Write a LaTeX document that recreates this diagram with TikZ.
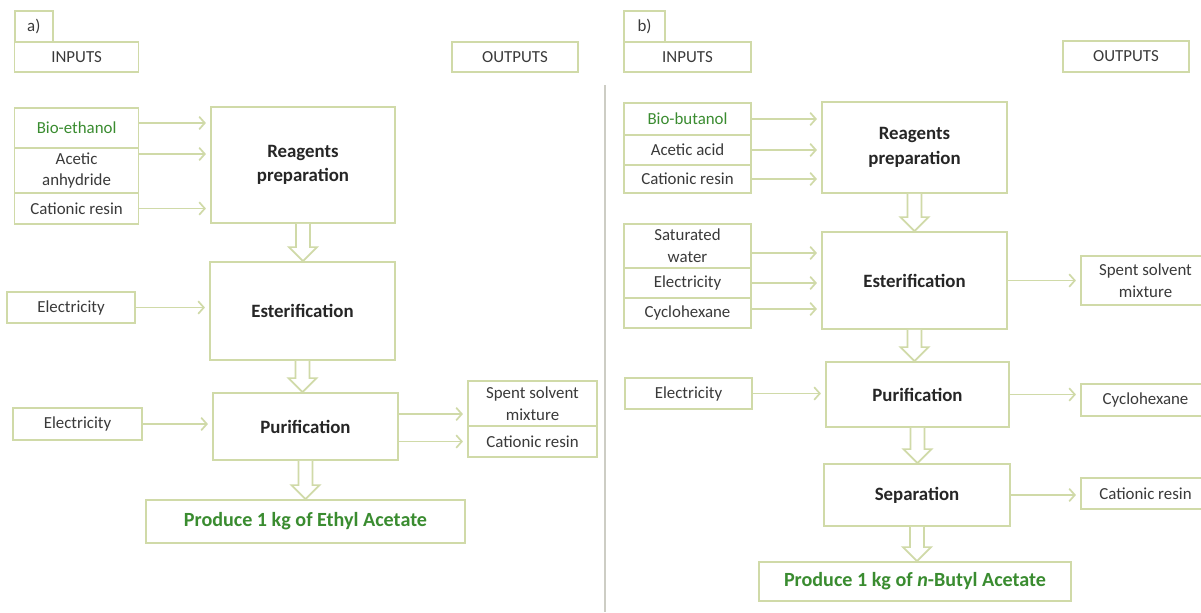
\documentclass[tikz,border=0pt]{standalone}
\usepackage{fontspec}
\setmainfont{Carlito}
\usetikzlibrary{arrows.meta, calc}

\definecolor{boxline}{RGB}{208,218,168}
\definecolor{txtgrey}{RGB}{58,58,58}
\definecolor{txtgreen}{RGB}{58,140,48}
\definecolor{sepgrey}{RGB}{205,205,196}

\begin{document}
\begin{tikzpicture}[
    x=0.025cm, y=-0.025cm,
    box/.style={draw=boxline, line width=1.2pt, fill=white, align=center, inner sep=1pt,
        text=txtgrey, font=\fontsize{12}{15.5}\selectfont},
    sz/.style 2 args={minimum width=#1*0.025cm, minimum height=#2*0.025cm},
    stage/.style={box, text=black!85, font=\fontsize{13.4}{17.5}\selectfont\bfseries},
    prod/.style={box, text=txtgreen, font=\fontsize{14.3}{16}\selectfont\bfseries},
    flow/.style={draw=boxline, line width=1.2pt, -{Straight Barb[length=4pt, width=9pt]}, shorten >=3pt},
    hollow/.style={draw=boxline, line width=1.2pt, fill=white,
        to path={let \p1=(\tikztostart), \p2=(\tikztotarget) in
            (\x1-5pt,\y1) -- (\x1-5pt,\y2+10pt) -- (\x1-10pt,\y2+10pt) -- (\x1,\y2)
            -- (\x1+10pt,\y2+10pt) -- (\x1+5pt,\y2+10pt) -- (\x1+5pt,\y1)}}
]

\fill[white] (0,0) rectangle (1201,612);
\useasboundingbox (0,0) rectangle (1201,612);

% a) ethyl acetate
\node[box, sz={38}{31}] (labA) at (33.8,26.5) {a)};
\node[box, sz={124}{30}] (inA) at (76.6,57) {INPUTS};
\node[box, sz={126}{30}] (outA) at (515,57) {OUTPUTS};

\node[box, sz={124}{40}, text=txtgreen] (bioeth) at (76.6,128) {Bio-ethanol};
\node[box, sz={124}{45}] (aceanh) at (76.6,170.5) {Acetic\\anhydride};
\node[box, sz={124}{31}] (cresA) at (76.6,208.5) {Cationic resin};
\node[stage, sz={184}{116}] (reagA) at (303,165) {Reagents\\preparation};

\node[box, sz={128}{31}] (elecA) at (71,307.5) {Electricity};
\node[stage, sz={185}{98}] (estA) at (302.5,311) {Esterification};

\node[box, sz={129}{32}] (elecA2) at (77.5,424) {Electricity};
\node[stage, sz={185}{67}] (purA) at (305.5,426.5) {Purification};
\node[box, sz={129}{45}] (spentA) at (532.5,403.5) {Spent solvent\\mixture};
\node[box, sz={129}{31}] (cresA2) at (532.5,441.5) {Cationic resin};

\node[prod, sz={319}{43}] (prodA) at (305.5,521.5) {Produce 1 kg of Ethyl Acetate};

\coordinate (a1) at ($(bioeth.east)+(0,-5)$);
\coordinate (a2) at ($(aceanh.east)+(0,-16.5)$);
\coordinate (a3) at ($(purA.east)+(0,-12.5)$);
\draw[flow] (a1) -- (a1 -| reagA.west);
\draw[flow] (a2) -- (a2 -| reagA.west);
\draw[flow] (cresA.east) -- (cresA.east -| reagA.west);
\draw[flow] (elecA.east) -- (elecA.east -| estA.west);
\draw[flow] (elecA2.east) -- (elecA2.east -| purA.west);
\draw[flow] (a3) -- (a3 -| spentA.west);
\draw[flow] (purA.east |- cresA2.west) -- (cresA2.west);

\draw[hollow] (reagA.south) to (estA.north);
\draw[hollow] (estA.south) to (purA.north);
\draw[hollow] (purA.south) to (prodA.north);

\draw[sepgrey, line width=1.2pt] (605,85) -- (605,612);

% b) n-butyl acetate
\node[box, sz={41}{31}] (labB) at (644.5,26.5) {b)};
\node[box, sz={127}{30}] (inB) at (687.5,57) {INPUTS};
\node[box, sz={126}{31}] (outB) at (1126,56.5) {OUTPUTS};

\node[box, sz={127}{32}, text=txtgreen] (biobut) at (687.5,119) {Bio-butanol};
\node[box, sz={127}{30}] (acacid) at (687.5,150) {Acetic acid};
\node[box, sz={127}{28}] (cresB) at (687.5,179) {Cationic resin};
\node[stage, sz={185}{91}] (reagB) at (914.5,147.5) {Reagents\\preparation};

\node[box, sz={127}{44}] (satw) at (687.5,246) {Saturated\\water};
\node[box, sz={127}{30}] (elecB) at (687.5,283) {Electricity};
\node[box, sz={127}{30}] (cyhexB) at (687.5,313) {Cyclohexane};
\node[stage, sz={185}{97}] (estB) at (914.5,280.5) {Esterification};
\node[box, sz={129}{49}] (spentB) at (1145.5,280.5) {Spent solvent\\mixture};

\node[box, sz={127}{31}] (elecB2) at (688.5,393.5) {Electricity};
\node[stage, sz={183}{65}] (purB) at (917.5,394.5) {Purification};
\node[box, sz={129}{32}] (cyhexB2) at (1145.5,400) {Cyclohexane};

\node[stage, sz={186}{62}] (sepB) at (917,495) {Separation};
\node[box, sz={129}{31}] (cresB2) at (1145.5,493.5) {Cationic resin};

\node[prod, sz={312}{39}] (prodB) at (915,581.5) {Produce 1 kg of {\itshape n}-Butyl Acetate};

\coordinate (b1) at ($(satw.east)+(0,7)$);
\coordinate (b2) at ($(cyhexB.east)+(0,-4)$);
\draw[flow] (biobut.east) -- (biobut.east -| reagB.west);
\draw[flow] (acacid.east) -- (acacid.east -| reagB.west);
\draw[flow] (cresB.east) -- (cresB.east -| reagB.west);
\draw[flow] (b1) -- (b1 -| estB.west);
\draw[flow] (elecB.east) -- (elecB.east -| estB.west);
\draw[flow] (b2) -- (b2 -| estB.west);
\draw[flow] (estB.east) -- (estB.east -| spentB.west);
\draw[flow] (elecB2.east) -- (elecB2.east -| purB.west);
\draw[flow] (purB.east) -- (purB.east -| cyhexB2.west);
\draw[flow] (sepB.east) -- (sepB.east -| cresB2.west);

\draw[hollow] (reagB.south) to (estB.north);
\draw[hollow] (estB.south) to (purB.north);
\draw[hollow] (purB.south) to (sepB.north);
\draw[hollow] (sepB.south) to (prodB.north);

\end{tikzpicture}
\end{document}
